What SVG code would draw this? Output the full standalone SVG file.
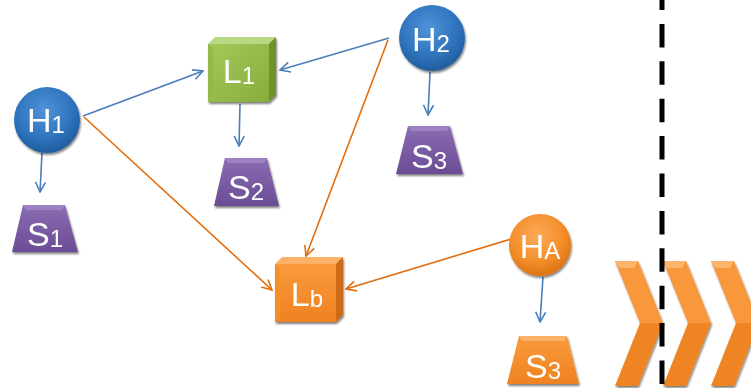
<svg xmlns="http://www.w3.org/2000/svg" width="751" height="388" viewBox="0 0 751 388">
  <style>
    .lbl { font-family: "Liberation Sans", Arial, sans-serif; fill: #ffffff; font-size: 34px; text-anchor: middle; }
    .sub { font-size: 24px; }
    .edge-blue { stroke: #4a7ebb; stroke-width: 1.6; fill: none; }
    .edge-orange { stroke: #e46c0a; stroke-width: 1.6; fill: none; }
    .divider { stroke: #000000; stroke-width: 5; stroke-dasharray: 23.5 13.9; stroke-dashoffset: 13.5; }
  </style>
  <defs>
    <radialGradient id="sphereBlue" cx="0.45" cy="0.35" r="0.7">
      <stop offset="0" stop-color="#4f93d8"/>
      <stop offset="0.6" stop-color="#2f74bd"/>
      <stop offset="1" stop-color="#1d5796"/>
    </radialGradient>
    <radialGradient id="sphereOrange" cx="0.45" cy="0.35" r="0.7">
      <stop offset="0" stop-color="#fbab5a"/>
      <stop offset="0.6" stop-color="#f48e2a"/>
      <stop offset="1" stop-color="#d86d0e"/>
    </radialGradient>
    <linearGradient id="purpleFace" x1="0" y1="0" x2="0" y2="1">
      <stop offset="0" stop-color="#8a6cb3"/>
      <stop offset="1" stop-color="#6a4d94"/>
    </linearGradient>
    <linearGradient id="orangeFace" x1="0" y1="0" x2="0" y2="1">
      <stop offset="0" stop-color="#fa9a3c"/>
      <stop offset="1" stop-color="#ef8220"/>
    </linearGradient>
    <linearGradient id="greenFace" x1="0" y1="0" x2="1" y2="1">
      <stop offset="0" stop-color="#a3c95a"/>
      <stop offset="1" stop-color="#86ad3c"/>
    </linearGradient>
    <filter id="shadow" x="-20%" y="-20%" width="150%" height="150%">
      <feGaussianBlur in="SourceAlpha" stdDeviation="1.2"/>
      <feOffset dx="1" dy="2" result="b"/>
      <feComponentTransfer><feFuncA type="linear" slope="0.5"/></feComponentTransfer>
      <feMerge><feMergeNode/><feMergeNode in="SourceGraphic"/></feMerge>
    </filter>
    <marker id="arrowBlue" viewBox="0 0 12 12" refX="11" refY="6" markerWidth="12" markerHeight="12" markerUnits="userSpaceOnUse" orient="auto">
      <path d="M1,1 L11,6 L1,11" fill="none" stroke="#4a7ebb" stroke-width="1.6"/>
    </marker>
    <marker id="arrowOrange" viewBox="0 0 12 12" refX="11" refY="6" markerWidth="12" markerHeight="12" markerUnits="userSpaceOnUse" orient="auto">
      <path d="M1,1 L11,6 L1,11" fill="none" stroke="#e46c0a" stroke-width="1.6"/>
    </marker>
  </defs>

  <!-- connectors -->
  <g id="connectors">
    <line class="edge-blue" x1="83" y1="116" x2="203" y2="71" marker-end="url(#arrowBlue)"/>
    <line class="edge-blue" x1="389" y1="38" x2="280" y2="70" marker-end="url(#arrowBlue)"/>
    <line class="edge-blue" x1="42" y1="153" x2="40" y2="192" marker-end="url(#arrowBlue)"/>
    <line class="edge-blue" x1="240" y1="104" x2="239" y2="146" marker-end="url(#arrowBlue)"/>
    <line class="edge-blue" x1="430" y1="72" x2="428" y2="115" marker-end="url(#arrowBlue)"/>
    <line class="edge-blue" x1="543" y1="277" x2="540" y2="322" marker-end="url(#arrowBlue)"/>
    <line class="edge-orange" x1="84" y1="117" x2="272" y2="290" marker-end="url(#arrowOrange)"/>
    <line class="edge-orange" x1="388" y1="40" x2="306" y2="256" marker-end="url(#arrowOrange)"/>
    <line class="edge-orange" x1="511" y1="239" x2="346" y2="289" marker-end="url(#arrowOrange)"/>
  </g>

  <!-- H1 -->
  <g id="H1" filter="url(#shadow)">
    <circle cx="47" cy="120" r="33" fill="url(#sphereBlue)"/>
    <text class="lbl" x="46" y="132">H<tspan class="sub" dy="1">1</tspan></text>
  </g>

  <!-- H2 -->
  <g id="H2" filter="url(#shadow)">
    <circle cx="432" cy="38" r="33" fill="url(#sphereBlue)"/>
    <text class="lbl" x="431" y="51">H<tspan class="sub" dy="1">2</tspan></text>
  </g>

  <!-- HA -->
  <g id="HA" filter="url(#shadow)">
    <circle cx="540" cy="245" r="31" fill="url(#sphereOrange)"/>
    <text class="lbl" x="540" y="258">H<tspan class="sub" dy="1">A</tspan></text>
  </g>

  <!-- L1 -->
  <g id="L1" filter="url(#shadow)">
    <rect x="208" y="44" width="61" height="58" fill="url(#greenFace)"/>
    <polygon points="208,44 215,37 276,37 269,44" fill="#b9d883"/>
    <polygon points="269,44 276,37 276,95 269,102" fill="#6f922c"/>
    <polygon points="208,44 213,48 213,98 208,102" fill="#93b94b"/>
    <text class="lbl" x="239" y="83">L<tspan class="sub" dy="1">1</tspan></text>
  </g>

  <!-- Lb -->
  <g id="Lb" filter="url(#shadow)">
    <rect x="275" y="264" width="61" height="58" fill="url(#orangeFace)"/>
    <polygon points="275,264 282,257 343,257 336,264" fill="#fbb266"/>
    <polygon points="336,264 343,257 343,315 336,322" fill="#cf6b12"/>
    <polygon points="275,264 280,268 280,318 275,322" fill="#f48f2c"/>
    <text class="lbl" x="307" y="306">L<tspan class="sub" dy="1">b</tspan></text>
  </g>

  <!-- S1 -->
  <g id="S1" filter="url(#shadow)">
    <polygon points="23,205 65,205 78,252 12,252" fill="url(#purpleFace)"/>
    <polygon points="23,205 65,205 62,210 26,210" fill="#9c82c2"/>
    <text class="lbl" x="45" y="246">S<tspan class="sub" dy="1">1</tspan></text>
  </g>

  <!-- S2 -->
  <g id="S2" filter="url(#shadow)">
    <polygon points="225,158 267,158 279,206 214,206" fill="url(#purpleFace)"/>
    <polygon points="225,158 267,158 264,163 228,163" fill="#9c82c2"/>
    <text class="lbl" x="246" y="199">S<tspan class="sub" dy="1">2</tspan></text>
  </g>

  <!-- S3 (upper) -->
  <g id="S3" filter="url(#shadow)">
    <polygon points="408,126 450,126 463,174 396,174" fill="url(#purpleFace)"/>
    <polygon points="408,126 450,126 447,131 411,131" fill="#9c82c2"/>
    <text class="lbl" x="429" y="168">S<tspan class="sub" dy="1">3</tspan></text>
  </g>

  <!-- S3 (lower) -->
  <g id="S3b" filter="url(#shadow)">
    <polygon points="519,336 567,336 579,384 507,384" fill="url(#orangeFace)"/>
    <polygon points="519,336 567,336 564,341 522,341" fill="#fbb266"/>
    <text class="lbl" x="543" y="378">S<tspan class="sub" dy="1">3</tspan></text>
  </g>

  <!-- chevrons -->
  <g id="chevrons" filter="url(#shadow)">
    <g>
      <polygon points="615,261 638,261 663,323 640,323" fill="#f8973a"/>
      <polygon points="640,323 663,323 638,386 615,386" fill="#ef8520"/>
      <polygon points="615,261 638,261 634,268 619,268" fill="#fdb56a"/>
    </g>
    <g>
      <polygon points="663,261 686,261 711,323 688,323" fill="#f8973a"/>
      <polygon points="688,323 711,323 686,386 663,386" fill="#ef8520"/>
      <polygon points="663,261 686,261 682,268 667,268" fill="#fdb56a"/>
    </g>
    <g>
      <polygon points="711,261 734,261 759,323 736,323" fill="#f8973a"/>
      <polygon points="736,323 759,323 734,386 711,386" fill="#ef8520"/>
      <polygon points="711,261 734,261 730,268 715,268" fill="#fdb56a"/>
    </g>
  </g>

  <!-- dashed divider -->
  <line class="divider" x1="662" y1="0" x2="662" y2="388"/>
</svg>
